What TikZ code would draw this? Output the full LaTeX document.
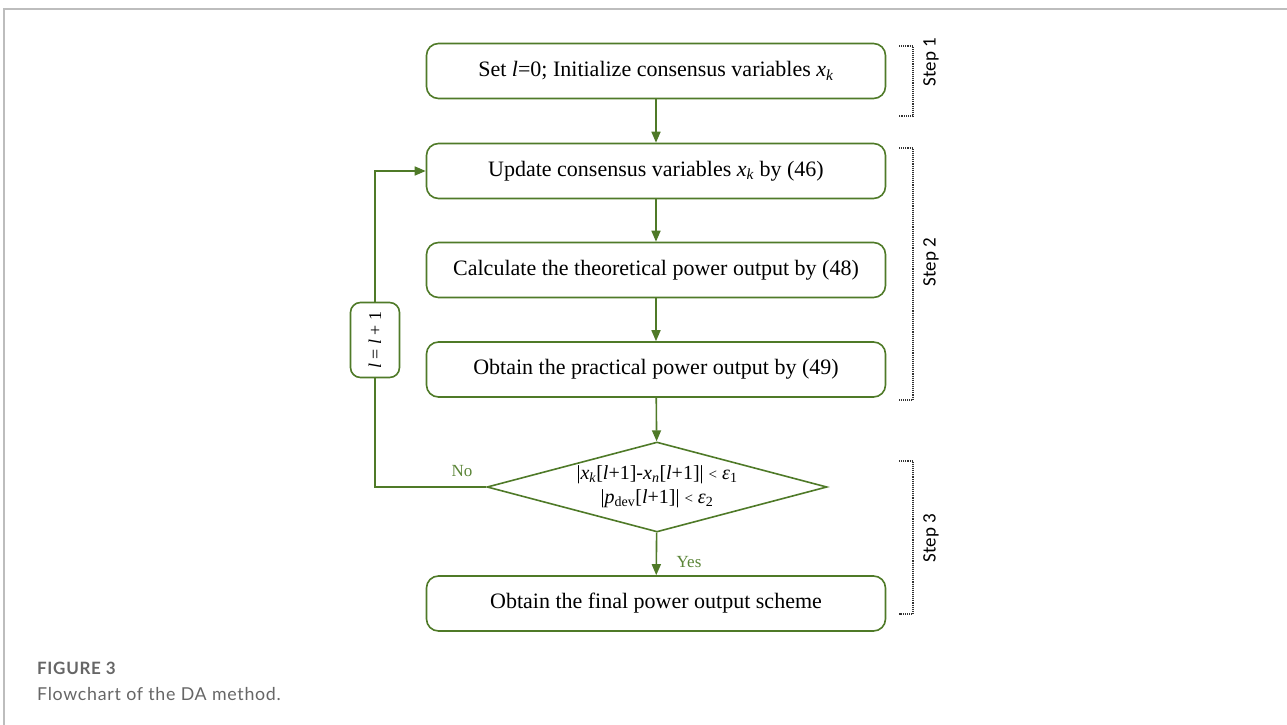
\documentclass[tikz,border=0pt]{standalone}
\usepackage{fontspec}
\setmainfont{Liberation Serif}
\newfontfamily\stepfont{Carlito}
\newfontfamily\capfont[LetterSpace=4]{Lato}
\usetikzlibrary{arrows.meta,shapes.geometric}
\definecolor{FlowGreen}{HTML}{4F7A28}
\definecolor{AnsGreen}{HTML}{5B8538}
\definecolor{FrameGray}{HTML}{BDBDBD}
\definecolor{CapGray}{HTML}{666666}

\begin{document}
\begin{tikzpicture}[x=1pt, y=-1pt,
  box/.style={draw=FlowGreen, line width=1.6pt, rounded corners=12pt, fill=white, minimum width=459pt, minimum height=55pt, align=center, font=\fontsize{22}{26}\selectfont},
  cond/.style={diamond, draw=FlowGreen, line width=1.6pt, fill=white, inner sep=-2pt, aspect=3.78, minimum width=340pt, minimum height=90pt, align=center, font=\fontsize{20}{24}\selectfont},
  incbox/.style={draw=FlowGreen, line width=1.6pt, rounded corners=10pt, fill=white, rotate=90, minimum width=75pt, minimum height=49pt, font=\fontsize{18}{20}\selectfont},
  arr/.style={-{Triangle[length=11pt,width=9pt]}, line width=1.6pt, FlowGreen},
  link/.style={line width=1.6pt, FlowGreen},
  bracket/.style={densely dotted, line width=1.1pt, black!80},
  steplbl/.style={rotate=90, font=\stepfont\fontsize{19}{22}\selectfont},
  ans/.style={text=AnsGreen, font=\fontsize{17}{19}\selectfont}
]
\useasboundingbox (0,0) rectangle (1287,725);
\draw[FrameGray, line width=1.2pt] (4,725) -- (4,9) -- (1287,9);

% flowchart
\node[box] (init) at (656,71) {Set \textit{l}=0; Initialize consensus variables \textit{x}\textsubscript{\textit{k}}};
\node[box] (upd) at (656,171) {Update consensus variables \textit{x}\textsubscript{\textit{k}} by (46)};
\node[box] (theo) at (656,270) {Calculate the theoretical power output by (48)};
\node[box] (prac) at (656,369.5) {Obtain the practical power output by (49)};
\node[cond] (chk) at (657,487) {|\textit{x}\textsubscript{\textit{k}}[\textit{l}+1]-\textit{x}\textsubscript{\textit{n}}[\textit{l}+1]| {\fontsize{15}{15}\selectfont<} \textit{ε}\textsubscript{1}\\|\textit{p}\textsubscript{dev}[\textit{l}+1]| {\fontsize{15}{15}\selectfont<} \textit{ε}\textsubscript{2}};
\node[box] (fin) at (656,603.5) {Obtain the final power output scheme};
\node[incbox] (inc) at (375,340) {\textit{l} = \textit{l} + 1};

\draw[arr] (init) -- (upd);
\draw[arr] (upd) -- (theo);
\draw[arr] (theo) -- (prac);
\draw[arr] (prac) -- (chk);
\draw[arr] (chk) -- (fin);
\draw[link] (chk.west) -| (inc);
\draw[arr] (inc) |- (upd.west);
\node[ans] (no) at (462,471) {No};
\node[ans] (yes) at (689,562) {Yes};

% steps
\draw[bracket] (899,46) -- (913,46) -- (913,116) -- (899,116);
\draw[bracket] (899,148) -- (913,148) -- (913,400) -- (899,400);
\draw[bracket] (899,461) -- (913,461) -- (913,614) -- (899,614);
\node[steplbl] (s1) at (931,62) {Step 1};
\node[steplbl] (s2) at (931,262) {Step 2};
\node[steplbl] (s3) at (931,538) {Step 3};

% caption
\node[anchor=base west, inner sep=0pt, text=CapGray, font=\capfont\bfseries\fontsize{17}{20}\selectfont] (fig) at (37,674) {FIGURE 3};
\node[anchor=base west, inner sep=0pt, text=CapGray, font=\capfont\fontsize{17.8}{20}\selectfont] (cap) at (37,700) {Flowchart of the DA method.};
\end{tikzpicture}
\end{document}
